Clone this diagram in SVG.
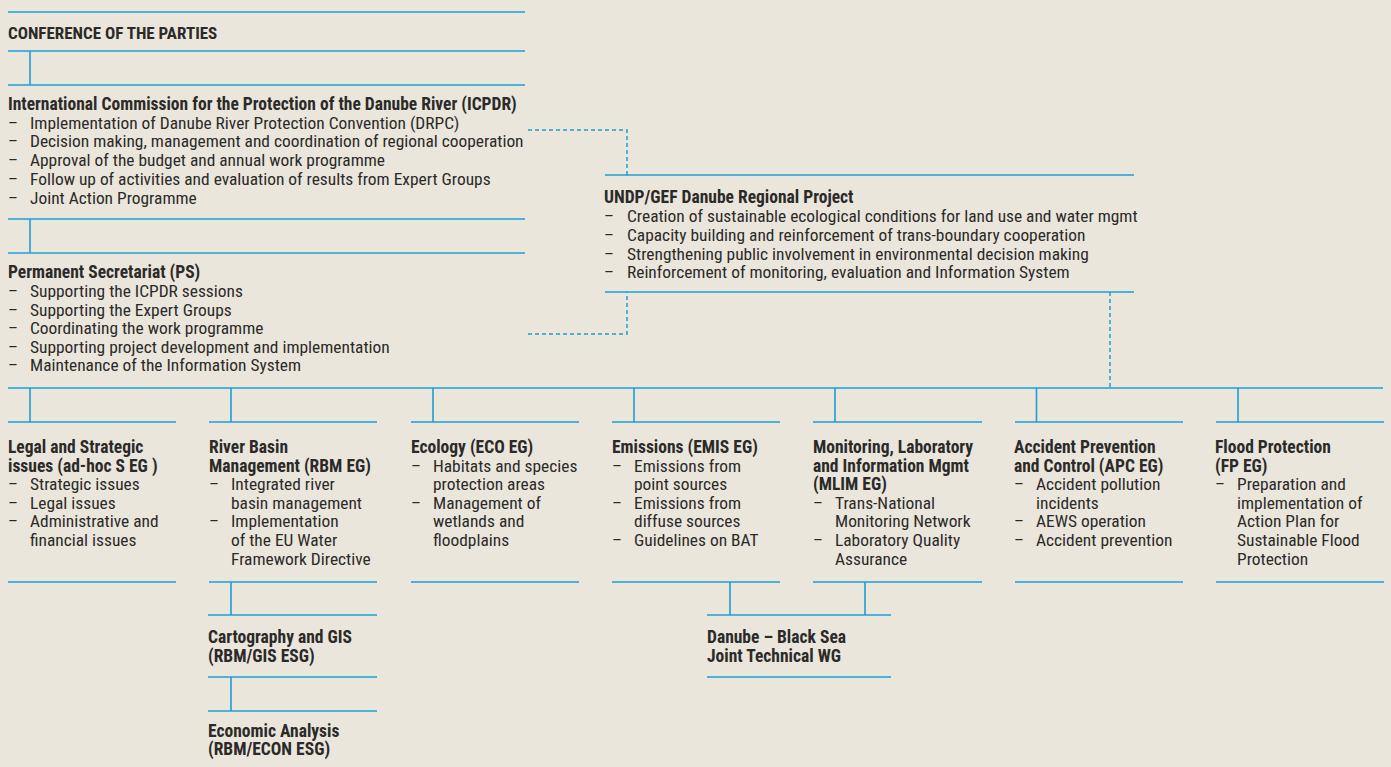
<svg xmlns="http://www.w3.org/2000/svg" width="1391" height="767" viewBox="0 0 1391 767">
<style>
text{font-family:"Roboto Condensed","Liberation Sans",sans-serif;fill:#2b2a28;font-size:17.4px}
.t{font-weight:bold;font-size:17.5px}
.cap{font-weight:bold;font-size:17px}
.ln{stroke:#1f9fd4;stroke-width:1.6;fill:none}
.ds{stroke:#1f9fd4;stroke-width:1.5;fill:none;stroke-dasharray:4 3}
</style>
<rect width="1391" height="767" fill="#EAE6DC"/>
<g id="connectors">
<path class="ln" d="M30,51V85M30,219V253M8,388H1383M30,388V422M231,388V422M433,388V422M634,388V422M835,388V422M1036.5,388V422M1238,388V422M231,582V615M231,677V711M730,582V615M865,582V615"/>
<path class="ds" d="M528,130H627V175M528,334H627V292M1110,292V388"/>
</g>
<g id="cop">
<path class="ln" d="M8,12H525M8,51H525"/>
<text class="cap" x="8" y="39">CONFERENCE OF THE PARTIES</text>
</g>
<g id="icpdr">
<path class="ln" d="M8,85H525M8,219H525"/>
<text class="t" x="8" y="110">International Commission for the Protection of the Danube River (ICPDR)</text>
<text x="8" y="128.5">–</text><text x="30" y="128.5">Implementation of Danube River Protection Convention (DRPC)</text>
<text x="8" y="147.3">–</text><text x="30" y="147.3">Decision making, management and coordination of regional cooperation</text>
<text x="8" y="166">–</text><text x="30" y="166">Approval of the budget and annual work programme</text>
<text x="8" y="185">–</text><text x="30" y="185">Follow up of activities and evaluation of results from Expert Groups</text>
<text x="8" y="203.5">–</text><text x="30" y="203.5">Joint Action Programme</text>
</g>
<g id="ps">
<path class="ln" d="M8,253H525"/>
<text class="t" x="8" y="278">Permanent Secretariat (PS)</text>
<text x="8" y="297">–</text><text x="30" y="297">Supporting the ICPDR sessions</text>
<text x="8" y="315.5">–</text><text x="30" y="315.5">Supporting the Expert Groups</text>
<text x="8" y="334">–</text><text x="30" y="334">Coordinating the work programme</text>
<text x="8" y="352.5">–</text><text x="30" y="352.5">Supporting project development and implementation</text>
<text x="8" y="371">–</text><text x="30" y="371">Maintenance of the Information System</text>
</g>
<g id="undp">
<path class="ln" d="M605,175H1134M605,292H1134"/>
<text class="t" x="604" y="203">UNDP/GEF Danube Regional Project</text>
<text x="604" y="222">–</text><text x="627" y="222">Creation of sustainable ecological conditions for land use and water mgmt</text>
<text x="604" y="241">–</text><text x="627" y="241">Capacity building and reinforcement of trans-boundary cooperation</text>
<text x="604" y="259.5">–</text><text x="627" y="259.5">Strengthening public involvement in environmental decision making</text>
<text x="604" y="278">–</text><text x="627" y="278">Reinforcement of monitoring, evaluation and Information System</text>
</g>
<g id="legal">
<path class="ln" d="M8,422H176M8,582H176"/>
<text class="t" x="8" y="453">Legal and Strategic</text>
<text class="t" x="8" y="471.6">issues (ad-hoc S EG )</text>
<text x="8" y="490.2">–</text><text x="30" y="490.2">Strategic issues</text>
<text x="8" y="508.8">–</text><text x="30" y="508.8">Legal issues</text>
<text x="8" y="527.4">–</text><text x="30" y="527.4">Administrative and</text>
<text x="30" y="546">financial issues</text>
</g>
<g id="rbm">
<path class="ln" d="M209,422H377M209,582H377"/>
<text class="t" x="209" y="453">River Basin</text>
<text class="t" x="209" y="471.6">Management (RBM EG)</text>
<text x="209" y="490.2">–</text><text x="231" y="490.2">Integrated river</text>
<text x="231" y="508.8">basin management</text>
<text x="209" y="527.4">–</text><text x="231" y="527.4">Implementation</text>
<text x="231" y="546">of the EU Water</text>
<text x="231" y="564.6">Framework Directive</text>
</g>
<g id="eco">
<path class="ln" d="M411,422H579M411,582H579"/>
<text class="t" x="411" y="453">Ecology (ECO EG)</text>
<text x="411" y="471.6">–</text><text x="433" y="471.6">Habitats and species</text>
<text x="433" y="490.2">protection areas</text>
<text x="411" y="508.8">–</text><text x="433" y="508.8">Management of</text>
<text x="433" y="527.4">wetlands and</text>
<text x="433" y="546">floodplains</text>
</g>
<g id="emis">
<path class="ln" d="M612,422H780M612,582H780"/>
<text class="t" x="612" y="453">Emissions (EMIS EG)</text>
<text x="612" y="471.6">–</text><text x="634" y="471.6">Emissions from</text>
<text x="634" y="490.2">point sources</text>
<text x="612" y="508.8">–</text><text x="634" y="508.8">Emissions from</text>
<text x="634" y="527.4">diffuse sources</text>
<text x="612" y="546">–</text><text x="634" y="546">Guidelines on BAT</text>
</g>
<g id="mlim">
<path class="ln" d="M813,422H982M813,582H982"/>
<text class="t" x="813" y="453">Monitoring, Laboratory</text>
<text class="t" x="813" y="471.6">and Information Mgmt</text>
<text class="t" x="813" y="490.2">(MLIM EG)</text>
<text x="813" y="508.8">–</text><text x="835" y="508.8">Trans-National</text>
<text x="835" y="527.4">Monitoring Network</text>
<text x="813" y="546">–</text><text x="835" y="546">Laboratory Quality</text>
<text x="835" y="564.6">Assurance</text>
</g>
<g id="apc">
<path class="ln" d="M1015,422H1183M1015,582H1183"/>
<text class="t" x="1014" y="453">Accident Prevention</text>
<text class="t" x="1014" y="471.6">and Control (APC EG)</text>
<text x="1014" y="490.2">–</text><text x="1036" y="490.2">Accident pollution</text>
<text x="1036" y="508.8">incidents</text>
<text x="1014" y="527.4">–</text><text x="1036" y="527.4">AEWS operation</text>
<text x="1014" y="546">–</text><text x="1036" y="546">Accident prevention</text>
</g>
<g id="fp">
<path class="ln" d="M1216,422H1384M1216,582H1384"/>
<text class="t" x="1215" y="453">Flood Protection</text>
<text class="t" x="1215" y="471.6">(FP EG)</text>
<text x="1215" y="490.2">–</text><text x="1237" y="490.2">Preparation and</text>
<text x="1237" y="508.8">implementation of</text>
<text x="1237" y="527.4">Action Plan for</text>
<text x="1237" y="546">Sustainable Flood</text>
<text x="1237" y="564.6">Protection</text>
</g>
<g id="gis">
<path class="ln" d="M208,615H377M208,677H377"/>
<text class="t" x="208" y="643">Cartography and GIS</text>
<text class="t" x="208" y="662">(RBM/GIS ESG)</text>
</g>
<g id="econ">
<path class="ln" d="M208,711H377"/>
<text class="t" x="208" y="737">Economic Analysis</text>
<text class="t" x="208" y="755">(RBM/ECON ESG)</text>
</g>
<g id="blacksea">
<path class="ln" d="M707,615H891M707,677H891"/>
<text class="t" x="707" y="643">Danube – Black Sea</text>
<text class="t" x="707" y="662">Joint Technical WG</text>
</g>
</svg>
